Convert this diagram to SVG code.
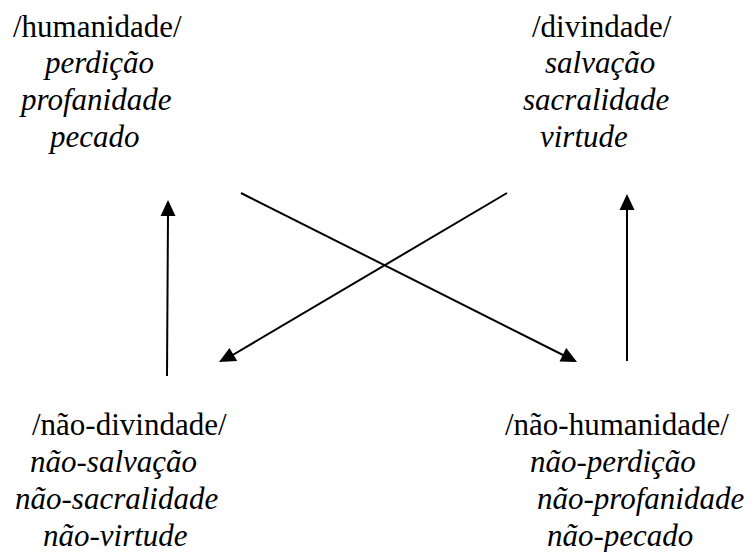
<svg xmlns="http://www.w3.org/2000/svg" width="753" height="552" viewBox="0 0 753 552">
<style>
text{font-family:"Liberation Serif","Times New Roman",serif;font-size:31px;fill:#000}
.i{font-style:italic}
.c{stroke:#000;stroke-width:2;fill:none}
.h{fill:#000}
</style>
<rect width="753" height="552" fill="#fff"/>
<g id="humanidade">
<text x="13" y="37">/humanidade/</text>
<text class="i" x="45" y="73">perdição</text>
<text class="i" x="21" y="110">profanidade</text>
<text class="i" x="50" y="147">pecado</text>
</g>
<g id="divindade">
<text x="532" y="37">/divindade/</text>
<text class="i" x="545" y="73">salvação</text>
<text class="i" x="523" y="110">sacralidade</text>
<text class="i" x="540" y="147">virtude</text>
</g>
<g id="nao-divindade">
<text x="32" y="435">/não-divindade/</text>
<text class="i" x="30" y="472">não-salvação</text>
<text class="i" x="15" y="509">não-sacralidade</text>
<text class="i" x="43" y="546">não-virtude</text>
</g>
<g id="nao-humanidade">
<text x="505" y="435">/não-humanidade/</text>
<text class="i" x="530" y="472">não-perdição</text>
<text class="i" x="537" y="509">não-profanidade</text>
<text class="i" x="547" y="546">não-pecado</text>
</g>
<g id="connectors">
<line class="c" x1="167" y1="376" x2="168" y2="214"/>
<path class="h" d="M168,200 L175.5,216 L160.5,216 Z"/>
<line class="c" x1="627" y1="361" x2="627" y2="209"/>
<path class="h" d="M627,194 L634.5,210 L619.5,210 Z"/>
<line class="c" x1="241" y1="193" x2="565" y2="356"/>
<path class="h" d="M577,362 L559.5,361.5 L566.2,348 Z"/>
<line class="c" x1="507" y1="193" x2="231" y2="356"/>
<path class="h" d="M219,362 L229.5,348 L237.2,361 Z"/>
</g>
</svg>
